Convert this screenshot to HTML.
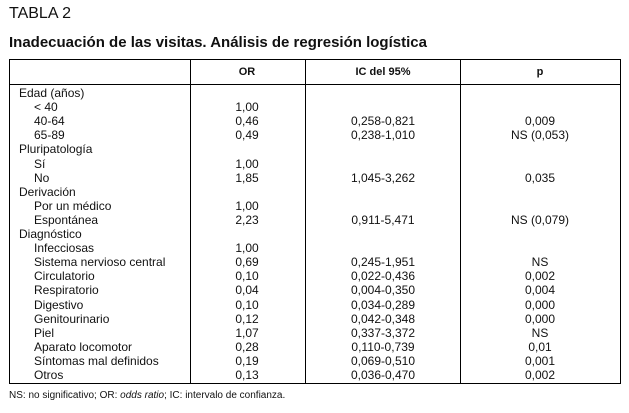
<!DOCTYPE html>
<html><head><meta charset="utf-8"><style>
body{margin:0;width:629px;height:413px;background:#fff;font-family:"Liberation Sans",sans-serif;color:#111;position:relative;overflow:hidden}
.a{position:absolute;white-space:nowrap;font-size:12px;line-height:14px}
.c{transform:translateX(-50%)}
.ln{position:absolute;background:#000}
</style></head><body>
<div class="a" style="left:9px;top:5px;font-size:16px;line-height:18px">TABLA 2</div>
<div class="a" style="left:9px;top:34px;font-size:15px;line-height:18px;font-weight:bold">Inadecuación de las visitas. Análisis de regresión logística</div>
<div style="position:absolute;left:9px;top:59px;width:610px;height:323px;border:1px solid #000"></div>
<div class="ln" style="left:9px;top:84px;width:611px;height:1px"></div>
<div class="ln" style="left:190px;top:59px;width:1px;height:324px"></div>
<div class="ln" style="left:305px;top:59px;width:1px;height:324px"></div>
<div class="ln" style="left:460px;top:59px;width:1px;height:324px"></div>
<div class="a c" style="left:247px;top:65px;font-size:11px;font-weight:bold">OR</div>
<div class="a c" style="left:383px;top:65px;font-size:11px;font-weight:bold">IC del 95%</div>
<div class="a c" style="left:540px;top:65px;font-size:11px;font-weight:bold">p</div>
<div id="rows"></div>
<div class="a" style="left:9px;top:389px;font-size:10px">NS: no significativo; OR: <i>odds ratio</i>; IC: intervalo de confianza.</div>
<script>
const labels=["Edad (años)","< 40","40-64","65-89","Pluripatología","Sí","No","Derivación","Por un médico","Espontánea","Diagnóstico","Infecciosas","Sistema nervioso central","Circulatorio","Respiratorio","Digestivo","Genitourinario","Piel","Aparato locomotor","Síntomas mal definidos","Otros"];
const indent=[0,1,1,1,0,1,1,0,1,1,0,1,1,1,1,1,1,1,1,1,1];
const orVals=["","1,00","0,46","0,49","","1,00","1,85","","1,00","2,23","","1,00","0,69","0,10","0,04","0,10","0,12","1,07","0,28","0,19","0,13"];
const icVals=["","","0,258-0,821","0,238-1,010","","","1,045-3,262","","","0,911-5,471","","","0,245-1,951","0,022-0,436","0,004-0,350","0,034-0,289","0,042-0,348","0,337-3,372","0,110-0,739","0,069-0,510","0,036-0,470"];
const pVals=["","","0,009","NS (0,053)","","","0,035","","","NS (0,079)","","","NS","0,002","0,004","0,000","0,000","NS","0,01","0,001","0,002"];
const host=document.getElementById('rows');
const top0=86,step=(375-93)/20;
function mk(txt,x,y,center){const d=document.createElement('div');d.className='a'+(center?' c':'');d.style.left=x+'px';d.style.top=y+'px';d.textContent=txt;host.appendChild(d);return d;}
labels.forEach((l,i)=>{
 const y=top0+i*step;
 const a=mk(l,indent[i]?34:19,y,false);
 
 
 if(orVals[i]){const b=mk(orVals[i],247,y,true);
 
 }
 if(icVals[i]){const c=mk(icVals[i],383,y,true);
 
 }
 if(pVals[i]){const d=mk(pVals[i],540,y,true);
 
 }
});
</script>
</body></html>
